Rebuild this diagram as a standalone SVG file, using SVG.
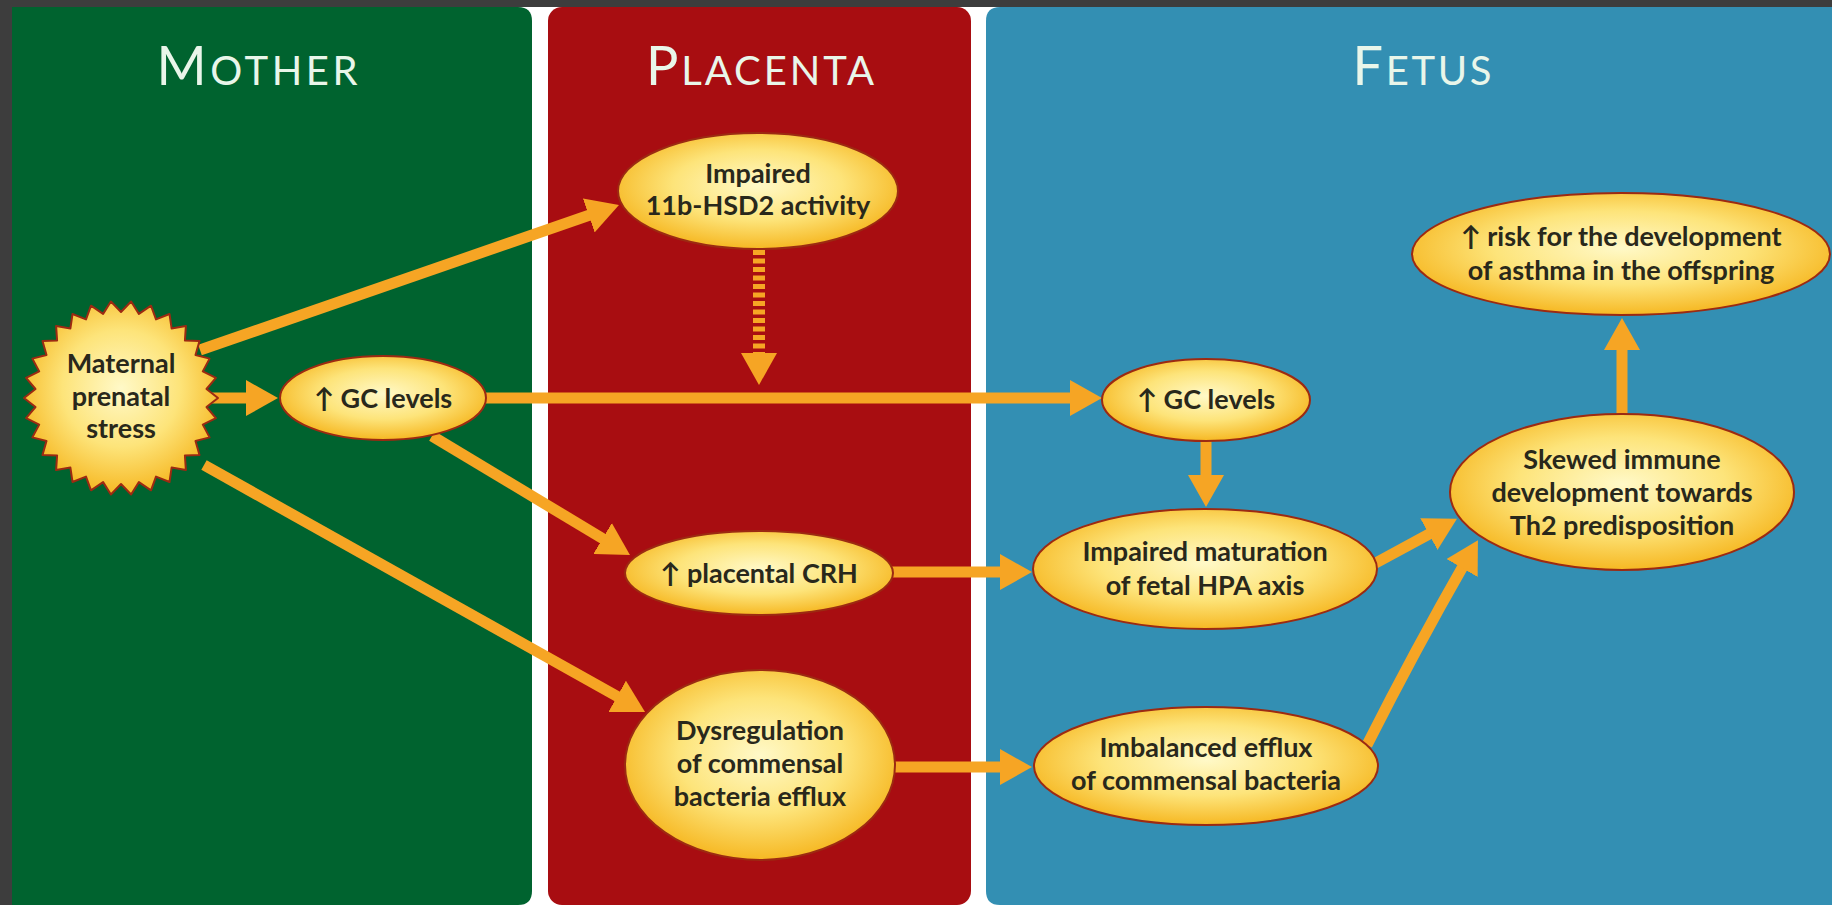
<svg xmlns="http://www.w3.org/2000/svg" width="1832" height="905" viewBox="0 0 1832 905">
  <defs>
    <radialGradient id="nodeFill" cx="50%" cy="45%" r="55%">
      <stop offset="0%" stop-color="#fff9c8"/>
      <stop offset="55%" stop-color="#fde47a"/>
      <stop offset="100%" stop-color="#f6b823"/>
    </radialGradient>
    <marker id="head" viewBox="0 0 32 36" markerUnits="userSpaceOnUse" markerWidth="32" markerHeight="36" refX="8" refY="18" orient="auto">
      <path d="M0,0 L32,18 L0,36 Z" fill="#f6a524"/>
    </marker>
    <style>
      .title { font-family: Lato, "Open Sans", "DejaVu Sans", sans-serif; fill: #e9f6ea; font-weight: 400; }
      .node { fill: url(#nodeFill); stroke: #9c2a12; stroke-width: 2; }
      .label { font-family: Lato, "Open Sans", "DejaVu Sans", sans-serif; font-weight: 700; font-size: 27px; fill: #29281b; text-anchor: middle; }
      .link { fill: none; stroke: #f6a524; stroke-width: 11; marker-end: url(#head); }
      .dashed { stroke-width: 12; stroke-dasharray: 5 3.5; }
    </style>
  </defs>

  <!-- page and frame -->
  <rect x="0" y="0" width="1832" height="905" fill="#ffffff"/>
  <rect x="0" y="0" width="1832" height="7" fill="#3d3d3d"/>
  <rect x="0" y="0" width="12" height="905" fill="#3d3d3d"/>

  <!-- compartments -->
  <g id="panel-mother">
    <path d="M12,7 H518 Q532,7 532,21 V891 Q532,905 518,905 H12 Z" fill="#00632f"/>
    <text class="title" x="257" y="85" text-anchor="middle" textLength="201" lengthAdjust="spacing"><tspan font-size="54">M</tspan><tspan font-size="40">OTHER</tspan></text>
  </g>
  <g id="panel-placenta">
    <rect x="548" y="7" width="423" height="898" rx="14" ry="14" fill="#a80d11"/>
    <text class="title" x="760" y="85" text-anchor="middle" textLength="228" lengthAdjust="spacing"><tspan font-size="54">P</tspan><tspan font-size="40">LACENTA</tspan></text>
  </g>
  <g id="panel-fetus">
    <path d="M1000,7 H1832 V905 H1000 Q986,905 986,891 V21 Q986,7 1000,7 Z" fill="#338fb3"/>
    <text class="title" x="1422" y="85" text-anchor="middle" textLength="139" lengthAdjust="spacing"><tspan font-size="54">F</tspan><tspan font-size="40">ETUS</tspan></text>
  </g>

  <!-- connectors -->
  <g id="connectors">
    <path class="link" d="M200,350 L596.3,212.8"/>
    <path class="link" d="M210,398 L254,398"/>
    <path class="link" d="M204,465 L624.1,700.3"/>
    <path class="link" d="M432,436 L609.4,542.6"/>
    <path class="link" d="M480,398 L1078,398"/>
    <path class="link dashed" d="M759,250 L759,361"/>
    <path class="link" d="M1206,440 L1206,483"/>
    <path class="link" d="M890,572 L1008,572"/>
    <path class="link" d="M892,767 L1008,767"/>
    <path class="link" d="M1372,565 L1435.9,530.3"/>
    <path class="link" d="M1367,745 Q1415,650 1466,561"/>
    <path class="link" d="M1622,416 L1622,342"/>
  </g>

  <!-- nodes -->
  <g id="stress">
    <polygon class="node" stroke="#c0401a" stroke-linejoin="round" points="218,398 206.5,407 215.9,418.2 202.8,424.6 209.6,437.4 195.5,441 199.5,455 184.9,455.5 185.9,470.1 171.6,467.6 169.5,482 156,476.6 151,490.3 138.9,482.1 131.1,494.5 121,484 110.9,494.5 103.1,482.1 91,490.3 86,476.6 72.5,482 70.4,467.6 56.1,470.1 57.1,455.5 42.5,455 46.5,441 32.4,437.4 39.2,424.6 26.1,418.2 35.5,407 24,398 35.5,389 26.1,377.8 39.2,371.4 32.4,358.6 46.5,355 42.5,341 57.1,340.5 56.1,325.9 70.4,328.4 72.5,314 86,319.4 91,305.7 103.1,313.9 110.9,301.5 121,312 131.1,301.5 138.9,313.9 151,305.7 156,319.4 169.5,314 171.6,328.4 185.9,325.9 184.9,340.5 199.5,341 195.5,355 209.6,358.6 202.8,371.4 215.9,377.8 206.5,389"/>
    <text class="label" x="121" y="373">Maternal</text>
    <text class="label" x="121" y="406">prenatal</text>
    <text class="label" x="121" y="438">stress</text>
  </g>
  <g id="hsd2">
    <ellipse class="node" cx="758" cy="191" rx="140" ry="58"/>
    <text class="label" x="758" y="183">Impaired</text>
    <text class="label" x="758" y="215">11b-HSD2 activity</text>
  </g>
  <g id="gc-mother">
    <ellipse class="node" cx="383" cy="398" rx="103" ry="42"/>
    <text class="label" x="383" y="408">↑ GC levels</text>
  </g>
  <g id="crh">
    <ellipse class="node" cx="759" cy="573" rx="134" ry="42"/>
    <text class="label" x="759" y="583">↑ placental CRH</text>
  </g>
  <g id="dysregulation">
    <ellipse class="node" cx="760" cy="765" rx="135" ry="95"/>
    <text class="label" x="760" y="740">Dysregulation</text>
    <text class="label" x="760" y="773">of commensal</text>
    <text class="label" x="760" y="806">bacteria efflux</text>
  </g>
  <g id="gc-fetus">
    <ellipse class="node" cx="1206" cy="400" rx="104" ry="41"/>
    <text class="label" x="1206" y="409">↑ GC levels</text>
  </g>
  <g id="hpa">
    <ellipse class="node" cx="1205" cy="569" rx="172" ry="60"/>
    <text class="label" x="1205" y="561">Impaired maturation</text>
    <text class="label" x="1205" y="595">of fetal HPA axis</text>
  </g>
  <g id="efflux">
    <ellipse class="node" cx="1206" cy="766" rx="172" ry="59"/>
    <text class="label" x="1206" y="757">Imbalanced efflux</text>
    <text class="label" x="1206" y="790">of commensal bacteria</text>
  </g>
  <g id="immune">
    <ellipse class="node" cx="1622" cy="492" rx="172" ry="78"/>
    <text class="label" x="1622" y="469">Skewed immune</text>
    <text class="label" x="1622" y="502">development towards</text>
    <text class="label" x="1622" y="535">Th2 predisposition</text>
  </g>
  <g id="asthma">
    <ellipse class="node" cx="1621" cy="254" rx="209" ry="61"/>
    <text class="label" x="1621" y="246">↑ risk for the development</text>
    <text class="label" x="1621" y="280">of asthma in the offspring</text>
  </g>
</svg>
